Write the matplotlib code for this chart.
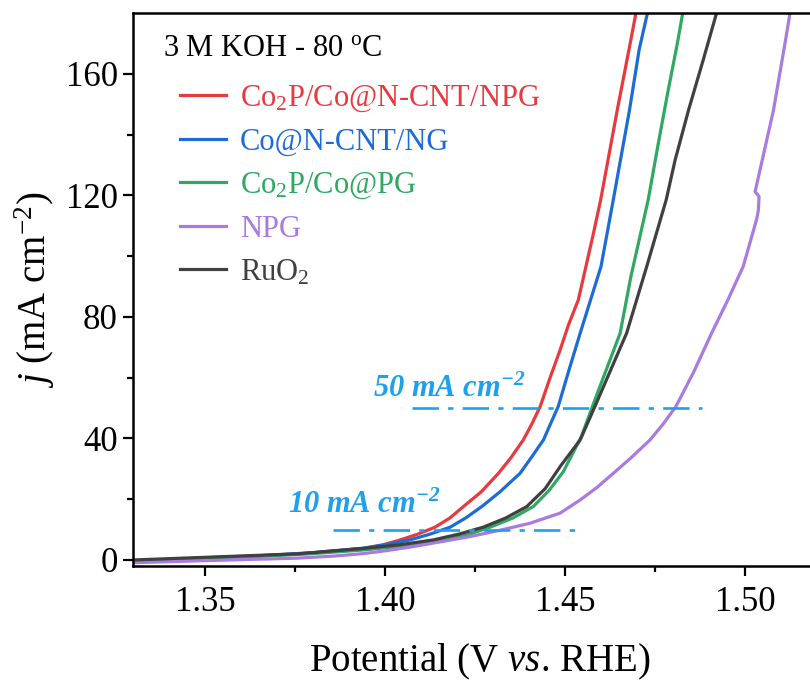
import matplotlib
matplotlib.use("Agg")
import matplotlib.pyplot as plt

plt.rcParams["font.family"] = ["Liberation Serif", "DejaVu Serif"]
plt.rcParams["mathtext.fontset"] = "custom"
plt.rcParams["mathtext.rm"] = "Liberation Serif"
plt.rcParams["mathtext.it"] = "Liberation Serif:italic"
plt.rcParams["mathtext.bf"] = "Liberation Serif:bold"
plt.rcParams["mathtext.bfit"] = "Liberation Serif:bold:italic"

# LSV curves (V vs RHE, mA cm-2)
v_npg_cnt = [1.330, 1.350, 1.365, 1.380, 1.394, 1.3995, 1.4042, 1.409, 1.4139, 1.418,
             1.4218, 1.4267, 1.4315, 1.435, 1.4384, 1.4408, 1.4431, 1.446, 1.4486, 1.451,
             1.4537, 1.4579, 1.4599, 1.4645, 1.4681, 1.4697]
j_npg_cnt = [-0.6, 0.6, 1.3, 2.3, 3.8, 5.0, 6.6, 8.45, 10.8, 13.8,
             17.6, 22.4, 28.5, 33.7, 39.5, 44.8, 50.5, 60.5, 69.0, 77.5,
             85.6, 107.5, 118.5, 148.0, 170.0, 180.0]

v_cnt_ng = [1.330, 1.350, 1.365, 1.380, 1.394, 1.4005, 1.4069, 1.4125, 1.4181, 1.4225,
            1.4269, 1.432, 1.4375, 1.4408, 1.4440, 1.4481, 1.4511, 1.4542, 1.4571, 1.4600,
            1.4634, 1.4679, 1.4706, 1.4729]
j_cnt_ng = [-0.5, 0.7, 1.4, 2.4, 3.9, 5.1, 6.6, 8.5, 10.8, 13.9,
            17.6, 22.5, 28.5, 34.0, 39.5, 50.5, 62.5, 74.6, 85.6, 96.6,
            118.5, 148.0, 168.0, 180.0]

v_pg = [1.330, 1.350, 1.365, 1.380, 1.394, 1.406, 1.4171, 1.4235, 1.4292, 1.4355,
        1.4412, 1.4455, 1.4495, 1.4545, 1.4590, 1.4653, 1.4683, 1.4731, 1.4759, 1.4784,
        1.4812, 1.4827]
j_pg = [-0.6, 0.6, 1.2, 2.1, 3.3, 4.7, 6.6, 8.5, 10.8, 13.8,
        17.6, 22.8, 29.0, 40.5, 54.9, 74.6, 93.3, 118.5, 137.0, 153.0,
        170.0, 180.0]

v_npg = [1.330, 1.3505, 1.3755, 1.386, 1.394, 1.400, 1.4078, 1.4155, 1.4236, 1.432,
         1.4403, 1.4486, 1.4542, 1.4588, 1.4634, 1.4685, 1.4736, 1.4773, 1.4808, 1.4858,
         1.4907, 1.4952, 1.4995, 1.5032, 1.5037, 1.5039, 1.5028, 1.5079, 1.5111, 1.5125]
j_npg = [-0.9, -0.2, 0.6, 1.3, 2.1, 3.0, 4.4, 6.0, 7.7, 9.8,
         12.1, 15.4, 19.75, 23.8, 28.5, 33.8, 39.5, 44.8, 50.5, 62.0,
         74.6, 85.5, 96.6, 112.0, 115.0, 119.6, 121.2, 148.0, 170.0, 180.0]

v_ruo2 = [1.330, 1.3505, 1.3755, 1.394, 1.404, 1.4134, 1.4205, 1.4273, 1.4335, 1.4394,
          1.4445, 1.4488, 1.4542, 1.4583, 1.4595, 1.4671, 1.4727, 1.4781, 1.4806, 1.4843,
          1.4884, 1.4921]
j_ruo2 = [0.0, 0.9, 2.0, 3.8, 5.0, 6.6, 8.5, 10.8, 13.8, 17.6,
          23.5, 31.0, 39.5, 50.5, 53.8, 74.6, 96.6, 118.5, 131.7, 148.0,
          164.6, 180.0]

labels = ["Co$_2$P/Co@N-CNT/NPG", "Co@N-CNT/NG", "Co$_2$P/Co@PG", "NPG", "RuO$_2$"]
colors = ["#e8393e", "#1c6cd8", "#2fa862", "#a97ae0", "#404040"]

# reference current densities
ref_j = [10, 50]
ref_v = [(1.3856, 1.4547), (1.4075, 1.4880)]
ref_text = [r"10 mA cm$^{\mathbfit{-2}}$", r"50 mA cm$^{\mathbfit{-2}}$"]
ref_text_pos = [(1.3730, 15.6), (1.3967, 53.5)]
ref_color = "#1fa0ee"

fig = plt.figure(figsize=(8.1, 6.82), dpi=100)
ax = fig.add_axes([0.1642, 0.170, 1.0198 - 0.1642, 0.981 - 0.170])

series = [(v_npg_cnt, j_npg_cnt), (v_cnt_ng, j_cnt_ng), (v_pg, j_pg),
          (v_npg, j_npg), (v_ruo2, j_ruo2)]
for (v, j), lab, col in zip(series, labels, colors):
    ax.plot(v, j, color=col, lw=2.3, label=lab, solid_joinstyle="round")

for jj, (v0, v1), txt, (tx, ty) in zip(ref_j, ref_v, ref_text, ref_text_pos):
    ax.plot([v0, v1], [jj, jj], color=ref_color, lw=1.9,
            linestyle=(0, (10, 3.5, 2, 3.5)))
    ax.text(tx, ty, txt, color=ref_color, fontsize=22, fontweight="bold",
            fontstyle="italic", ha="left", va="baseline")

ax.set_xlim(1.33, 1.5225)
ax.set_ylim(-2, 180)
ax.set_xticks([1.35, 1.40, 1.45, 1.50])
ax.set_xticks([1.375, 1.425, 1.475], minor=True)
ax.set_xticklabels(["1.35", "1.40", "1.45", "1.50"])
ax.set_yticks([0, 40, 80, 120, 160])
ax.set_yticks([20, 60, 100, 140], minor=True)

ax.tick_params(which="major", direction="out", length=7, width=1.6, labelsize=25)
ax.tick_params(axis="x", which="major", pad=7)
ax.tick_params(axis="y", which="major", pad=4)
ax.tick_params(which="minor", direction="out", length=4.5, width=1.6)
for sp in ax.spines.values():
    sp.set_linewidth(1.8)

ax.set_xlabel(r"Potential (V $\mathit{vs}$. RHE)", fontsize=28, labelpad=17)
ax.set_ylabel(r"$j$ (mA cm$^{-2}$)", fontsize=28, labelpad=6)

ax.text(0.043, 0.936, r"3 M KOH - 80 $^{\mathrm{o}}$C", transform=ax.transAxes,
        fontsize=22, ha="left", va="center")
ax.legend(loc="upper left", bbox_to_anchor=(0.068, 0.872), frameon=False,
          fontsize=22, handlelength=1.5, handletextpad=0.45, labelspacing=0.45,
          borderpad=0, borderaxespad=0, labelcolor="linecolor")

fig.savefig("out.png", dpi=100)
